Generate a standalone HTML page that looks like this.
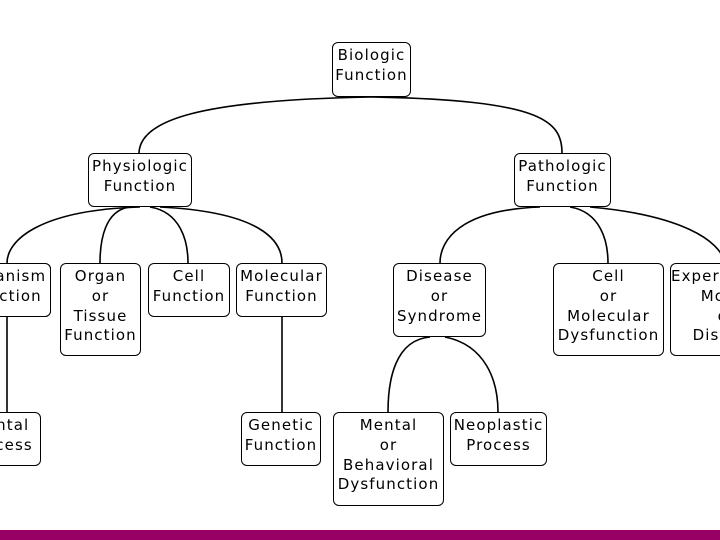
<!DOCTYPE html>
<html><head><style>
html,body{margin:0;padding:0;overflow:hidden;}
#w{width:720px;height:540px;background:#fff;position:relative;overflow:hidden;font-family:"DejaVu Sans","Liberation Sans",sans-serif;}
.b{position:absolute;box-sizing:border-box;border:1.5px solid #000;border-radius:6px;background:#fff;text-align:center;font-size:15px;letter-spacing:1.1px;line-height:19.8px;padding-top:3px;color:#000;white-space:nowrap;}
svg{position:absolute;left:0;top:0}
</style></head><body><div id="w">
<svg width="720" height="540" fill="none" stroke="#000" stroke-width="1.6">
<path d="M371,97 C200,100 140,120 139,153"/>
<path d="M371,97 C540,100 562,120 562,153"/>
<path d="M140,207 C40,210 7,240 7,263"/>
<path d="M130,207 C105,210 100,240 100,263"/>
<path d="M150,207 C180,212 188,240 188,263"/>
<path d="M160,207 C260,212 282,240 282,263"/>
<path d="M540,207 C460,210 440,240 440,263"/>
<path d="M570,207 C600,212 608,240 608,263"/>
<path d="M590,207 C680,215 720,240 725,263"/>
<path d="M430,337 C395,340 388,380 388,412"/>
<path d="M445,337 C485,345 498,380 498,412"/>
<path d="M7,316 V412"/>
<path d="M282,316 V412"/>
</svg>
<div class="b" style="left:332px;top:42px;width:79px;height:55px">Biologic<br>Function</div>
<div class="b" style="left:88px;top:153px;width:104px;height:54px">Physiologic<br>Function</div>
<div class="b" style="left:514px;top:153px;width:97px;height:54px">Pathologic<br>Function</div>
<div class="b" style="left:-40px;top:263px;width:91px;height:54px">Organism<br>Function</div>
<div class="b" style="left:60px;top:263px;width:81px;height:93px">Organ<br>or<br>Tissue<br>Function</div>
<div class="b" style="left:148px;top:263px;width:82px;height:54px">Cell<br>Function</div>
<div class="b" style="left:236px;top:263px;width:91px;height:54px">Molecular<br>Function</div>
<div class="b" style="left:393px;top:263px;width:93px;height:74px">Disease<br>or<br>Syndrome</div>
<div class="b" style="left:553px;top:263px;width:111px;height:93px">Cell<br>or<br>Molecular<br>Dysfunction</div>
<div class="b" style="left:670px;top:263px;width:50px;height:93px;border-right:none;border-radius:6px 0 0 6px;overflow:hidden;"><div style="width:110px;">Experimental<br>Model<br>of<br>Disease</div></div>
<div class="b" style="left:0;top:412px;width:41px;height:54px;border-left:none;border-radius:0 6px 6px 0;overflow:hidden;"><div style="width:81px;margin-left:-40px;">Mental<br>Process</div></div>
<div class="b" style="left:0;top:263px;width:51px;height:54px;border-left:none;border-radius:0 6px 6px 0;overflow:hidden;"><div style="width:91px;margin-left:-40px;">Organism<br>Function</div></div>
<div class="b" style="left:241px;top:412px;width:80px;height:54px">Genetic<br>Function</div>
<div class="b" style="left:333px;top:412px;width:111px;height:94px">Mental<br>or<br>Behavioral<br>Dysfunction</div>
<div class="b" style="left:450px;top:412px;width:97px;height:54px">Neoplastic<br>Process</div>
<div style="position:absolute;left:0;top:530px;width:720px;height:10px;background:#990066"></div>
</div></body></html>
